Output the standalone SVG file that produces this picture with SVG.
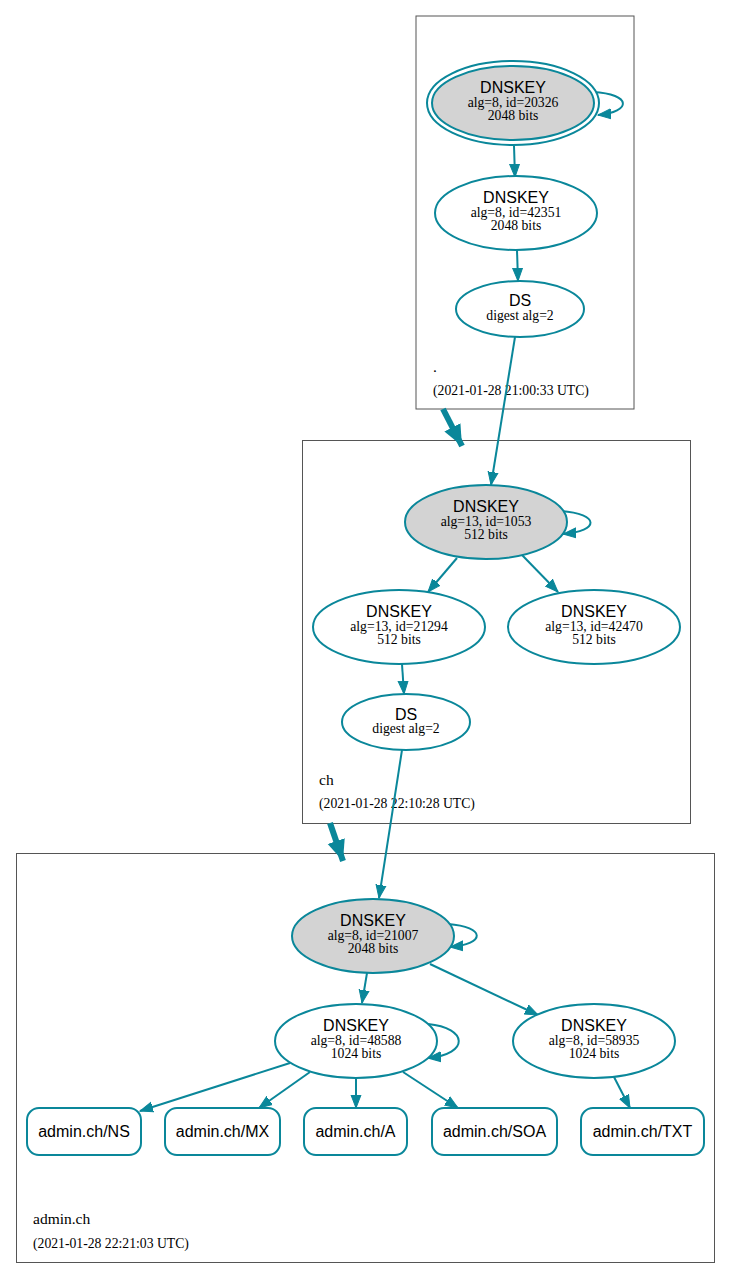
<svg xmlns="http://www.w3.org/2000/svg" width="731" height="1278" viewBox="0 0 731 1278">
<style>
.cl{fill:none;stroke:#555;stroke-width:1}
.n{fill:#fff;stroke:#0a879a;stroke-width:2}
.k{fill:#d3d3d3;stroke:#0a879a;stroke-width:2}
.e{fill:none;stroke:#0a879a;stroke-width:2}
.t{stroke:#0a879a;stroke-width:6;fill:none}
.h{font-family:"Liberation Sans",Arial,sans-serif;font-size:16px;fill:#000;text-anchor:middle}
.s{font-family:"Liberation Serif","Times New Roman",serif;font-size:13.7px;fill:#000;text-anchor:middle}
.lb{font-family:"Liberation Serif","Times New Roman",serif;font-size:15.5px;fill:#000}
.dt{font-family:"Liberation Serif","Times New Roman",serif;font-size:13.7px;fill:#000}
</style>
<defs>
<marker id="a" markerUnits="userSpaceOnUse" markerWidth="14" markerHeight="12" refX="13" refY="6" orient="auto" viewBox="0 0 14 12">
<path d="M0,1 L13,6 L0,11 z" fill="#0a879a" stroke="#0a879a" stroke-width="1"/>
</marker>
<marker id="b" markerUnits="userSpaceOnUse" markerWidth="22" markerHeight="20" refX="21" refY="10" orient="auto" viewBox="0 0 22 20">
<path d="M0,1 L21,10 L0,19 z" fill="#0a879a"/>
</marker>
</defs>

<g id="cluster-root">
<rect class="cl" x="416" y="16" width="218" height="393"/>
<text class="lb" x="433" y="372">.</text>
<text class="dt" x="433" y="395">(2021-01-28 21:00:33 UTC)</text>
</g>
<g id="cluster-ch">
<rect class="cl" x="302.5" y="440.5" width="388" height="383"/>
<text class="lb" x="319" y="785">ch</text>
<text class="dt" x="319" y="808">(2021-01-28 22:10:28 UTC)</text>
</g>
<g id="cluster-admin">
<rect class="cl" x="16.5" y="853.5" width="698" height="409"/>
<text class="lb" x="33" y="1224">admin.ch</text>
<text class="dt" x="33" y="1248">(2021-01-28 22:21:03 UTC)</text>
</g>

<g id="connectors">
<path class="e" d="M593,92 C632,94 632,112 598,115" marker-end="url(#a)"/>
<path class="e" d="M514,146 L515,177" marker-end="url(#a)"/>
<path class="e" d="M517,250 L518,281" marker-end="url(#a)"/>
<path class="e" d="M515,337 L491,485" marker-end="url(#a)"/>
<path class="t" d="M443,409 L462,446" marker-end="url(#b)"/>
<path class="e" d="M561,511 C600,514 600,531 563,534" marker-end="url(#a)"/>
<path class="e" d="M457,558 L428,592" marker-end="url(#a)"/>
<path class="e" d="M522,555 L558,592" marker-end="url(#a)"/>
<path class="e" d="M402,664 L404,694" marker-end="url(#a)"/>
<path class="e" d="M402,750 L379,898" marker-end="url(#a)"/>
<path class="t" d="M330,823 L343,861" marker-end="url(#b)"/>
<path class="e" d="M448,924 C486,927 486,944 450,947" marker-end="url(#a)"/>
<path class="e" d="M367,973 L362,1003" marker-end="url(#a)"/>
<path class="e" d="M430,964 L538,1015" marker-end="url(#a)"/>
<path class="e" d="M428,1024 C468,1028 470,1054 428,1058" marker-end="url(#a)"/>
<path class="e" d="M290,1063 L140,1111" marker-end="url(#a)"/>
<path class="e" d="M310,1072 L259,1108" marker-end="url(#a)"/>
<path class="e" d="M356,1078 L356,1108" marker-end="url(#a)"/>
<path class="e" d="M403,1072 L458,1108" marker-end="url(#a)"/>
<path class="e" d="M614,1077 L630,1108" marker-end="url(#a)"/>
</g>

<g id="root-dnskey-20326">
<ellipse class="n" cx="513" cy="103" rx="86" ry="42"/>
<ellipse class="k" cx="513" cy="103" rx="81" ry="37"/>
<text class="h" x="513" y="93">DNSKEY</text>
<text class="s" x="513" y="107">alg=8, id=20326</text>
<text class="s" x="513" y="120">2048 bits</text>
</g>
<g id="root-dnskey-42351">
<ellipse class="n" cx="516" cy="213" rx="81" ry="37"/>
<text class="h" x="516" y="203">DNSKEY</text>
<text class="s" x="516" y="217">alg=8, id=42351</text>
<text class="s" x="516" y="230">2048 bits</text>
</g>
<g id="root-ds">
<ellipse class="n" cx="520" cy="309" rx="64" ry="28"/>
<text class="h" x="520" y="306">DS</text>
<text class="s" x="520" y="320">digest alg=2</text>
</g>

<g id="ch-dnskey-1053">
<ellipse class="k" cx="486" cy="522" rx="81" ry="37"/>
<text class="h" x="486" y="512">DNSKEY</text>
<text class="s" x="486" y="526">alg=13, id=1053</text>
<text class="s" x="486" y="539">512 bits</text>
</g>
<g id="ch-dnskey-21294">
<ellipse class="n" cx="399" cy="627" rx="86" ry="37"/>
<text class="h" x="399" y="617">DNSKEY</text>
<text class="s" x="399" y="631">alg=13, id=21294</text>
<text class="s" x="399" y="644">512 bits</text>
</g>
<g id="ch-dnskey-42470">
<ellipse class="n" cx="594" cy="627" rx="86" ry="37"/>
<text class="h" x="594" y="617">DNSKEY</text>
<text class="s" x="594" y="631">alg=13, id=42470</text>
<text class="s" x="594" y="644">512 bits</text>
</g>
<g id="ch-ds">
<ellipse class="n" cx="406" cy="722" rx="64" ry="28"/>
<text class="h" x="406" y="720">DS</text>
<text class="s" x="406" y="733">digest alg=2</text>
</g>

<g id="admin-dnskey-21007">
<ellipse class="k" cx="373" cy="936" rx="81" ry="37"/>
<text class="h" x="373" y="926">DNSKEY</text>
<text class="s" x="373" y="940">alg=8, id=21007</text>
<text class="s" x="373" y="953">2048 bits</text>
</g>
<g id="admin-dnskey-48588">
<ellipse class="n" cx="356" cy="1041" rx="81" ry="37"/>
<text class="h" x="356" y="1031">DNSKEY</text>
<text class="s" x="356" y="1045">alg=8, id=48588</text>
<text class="s" x="356" y="1058">1024 bits</text>
</g>
<g id="admin-dnskey-58935">
<ellipse class="n" cx="594" cy="1041" rx="81" ry="37"/>
<text class="h" x="594" y="1031">DNSKEY</text>
<text class="s" x="594" y="1045">alg=8, id=58935</text>
<text class="s" x="594" y="1058">1024 bits</text>
</g>
<g id="admin-ns">
<rect class="n" x="27" y="1108" width="114" height="47" rx="12"/>
<text class="h" x="84" y="1137">admin.ch/NS</text>
</g>
<g id="admin-mx">
<rect class="n" x="165" y="1108" width="115" height="47" rx="12"/>
<text class="h" x="222.5" y="1137">admin.ch/MX</text>
</g>
<g id="admin-a">
<rect class="n" x="304" y="1108" width="103" height="47" rx="12"/>
<text class="h" x="355.5" y="1137">admin.ch/A</text>
</g>
<g id="admin-soa">
<rect class="n" x="432" y="1108" width="125" height="47" rx="12"/>
<text class="h" x="494.5" y="1137">admin.ch/SOA</text>
</g>
<g id="admin-txt">
<rect class="n" x="581" y="1108" width="123" height="47" rx="12"/>
<text class="h" x="642.5" y="1137">admin.ch/TXT</text>
</g>
</svg>
